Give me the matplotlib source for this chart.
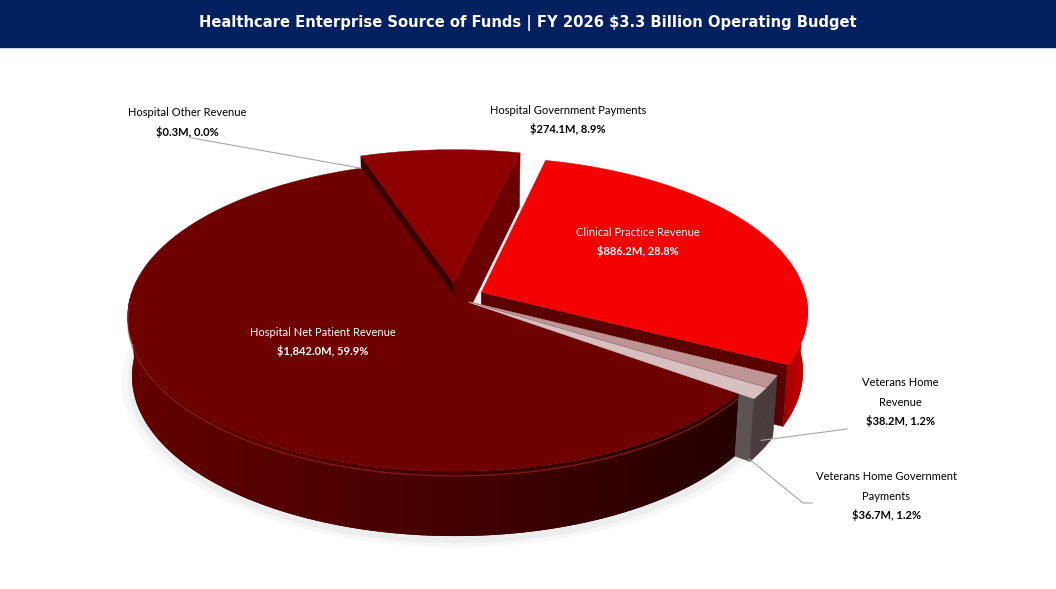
import numpy as np
import matplotlib
matplotlib.use('Agg')
import matplotlib.pyplot as plt
from matplotlib.patches import Polygon, Rectangle
from matplotlib.colors import to_rgb

# slices listed counter-clockwise, starting with Clinical Practice Revenue
categories = ['Clinical Practice Revenue', 'Hospital Government Payments',
              'Hospital Other Revenue', 'Hospital Net Patient Revenue',
              'Veterans Home Government Payments', 'Veterans Home Revenue']
values = [886.2, 274.1, 0.3, 1842.0, 36.7, 38.2]   # $M
title = 'Healthcare Enterprise Source of Funds | FY 2026 $3.3 Billion Operating Budget'

# styling
explode = [0.09, 0.10, 0.0, 0.0, 0.05, 0.05]
top_colors = ['#F50000', '#8E0000', '#8E0000', '#6E0000', '#D9C0C0', '#BF9494']
wall_colors = [('#A00000', '#D00000'), ('#6A0000', '#6A0000'), ('#6A0000', '#6A0000'),
               ('#640000', '#260000'), ('#4A3C3C', '#4A3C3C'), ('#4A3C3C', '#4A3C3C')]
start_wall = ['#5A0000', '#6A0000', '#5A0000', '#5A0000', '#5C5454', '#5C5454']
end_wall = ['#5A0000', '#3A0000', '#3A0000', '#3A0000', '#5C5454', '#5C5454']
start_angle = -27.0

# projection of the 3D disc (unit radius) onto the picture, in pixels
cx, cy, S = 455.0, 298.0, 325.0
beta = np.radians(28)
D = 7.4
h = 0.21
sb, cb = np.sin(beta), np.cos(beta)


def proj(X, Y, Z):
    X, Y, Z = np.asarray(X, float), np.asarray(Y, float), np.asarray(Z, float)
    depth = D + Y * cb - Z * sb
    up = Y * sb + Z * cb
    k = D / depth
    return cx + S * X * k, cy - S * up * k


fig = plt.figure(figsize=(10.56, 5.89), dpi=100)
ax = fig.add_axes([0, 0, 1, 1])

# title bar
ax.add_patch(Rectangle((0, 0), 1056, 47, color='#012060', zorder=1))
ax.text(528, 23, title, color='white', fontsize=10.6, fontweight='bold',
        ha='center', va='center', family='DejaVu Sans', zorder=2)

total = sum(values)
angles = np.cumsum([0] + [v / total * 360 for v in values]) + start_angle

# faint shadow under the pie
t = np.radians(np.linspace(0, 360, 240))
for r, a in [(1.035, 0.03), (1.015, 0.04)]:
    sx, sy = proj(r * np.cos(t), r * np.sin(t), -h)
    ax.add_patch(Polygon(np.c_[sx + 1, sy + 4], closed=True, color='black',
                         alpha=a, lw=0, zorder=2))

walls = []   # (depth key, polygon, colours)
tops = []
rims = []
for i in range(len(values)):
    a0, a1 = angles[i], angles[i + 1]
    mid = np.radians((a0 + a1) / 2)
    ox, oy = explode[i] * np.cos(mid), explode[i] * np.sin(mid)
    t = np.radians(np.linspace(a0, a1, max(3, int((a1 - a0) * 3))))
    X, Y = ox + np.cos(t), oy + np.sin(t)
    px, py = proj(np.r_[ox, X], np.r_[oy, Y], 0)
    tops.append((np.c_[px, py], top_colors[i]))

    # curved outer wall, front half only
    vis = np.sin(t) < 0
    if vis.sum() >= 2:
        Xv, Yv = X[vis], Y[vis]
        tx, ty = proj(Xv, Yv, 0)
        bx, by = proj(Xv, Yv, -h)
        poly = np.r_[np.c_[tx, ty], np.c_[bx, by][::-1]]
        walls.append((Yv.mean(), poly, wall_colors[i]))
        if i == 3:
            rims.append((Xv, Yv))

    # radial walls facing the viewer
    for ang, nrm, col in [(a0, a0 - 90, start_wall[i]), (a1, a1 + 90, end_wall[i])]:
        if np.sin(np.radians(nrm)) < 0:
            ex, ey = ox + np.cos(np.radians(ang)), oy + np.sin(np.radians(ang))
            qx, qy = proj([ox, ex, ex, ox], [oy, ey, ey, oy], [0, 0, -h, -h])
            walls.append(((oy + ey) / 2, np.c_[qx, qy], (col, col)))

z = 3.0
for _, poly, (c1, c2) in sorted(walls, key=lambda w: -w[0]):
    z += 0.01
    if c1 == c2:
        ax.add_patch(Polygon(poly, closed=True, facecolor=c1, edgecolor=c1,
                             lw=0.4, zorder=z))
        continue
    # horizontal gradient clipped to the wall outline
    patch = Polygon(poly, closed=True, facecolor=c2, edgecolor='none', zorder=z)
    ax.add_patch(patch)
    x0, x1 = poly[:, 0].min(), poly[:, 0].max()
    y0, y1 = poly[:, 1].min(), poly[:, 1].max()
    u = np.linspace(0, 1, 256)[None, :, None]
    grad = np.array(to_rgb(c1))[None, None, :] * (1 - u) + np.array(to_rgb(c2))[None, None, :] * u
    im = ax.imshow(np.repeat(grad, 2, axis=0), extent=(x0, x1, y1, y0),
                   aspect='auto', interpolation='bilinear', zorder=z + 0.001)
    im.set_clip_path(patch)

for poly, col in tops:
    ax.add_patch(Polygon(poly, closed=True, facecolor=col, edgecolor=col,
                         lw=0.3, zorder=5))
# light bevel along the front rim of the big slice
for X, Y in rims:
    rx_, ry_ = proj(X, Y, -0.015)
    ax.plot(rx_, ry_, color='#9C2020', lw=1.0, alpha=0.7, zorder=6)

# data labels
lab_font = dict(family='Lato', fontsize=8, ha='center', va='center', zorder=8)


def money(i):
    return '${:,.1f}M, {:.1f}%'.format(values[i], values[i] / total * 100)


label_pos = {
    0: ([categories[0]], 638, 232, 'white'),
    1: ([categories[1]], 568, 110, 'black'),
    2: ([categories[2]], 187, 113, 'black'),
    3: ([categories[3]], 323, 332, 'white'),
    4: (['Veterans Home Government', 'Payments'], 886, 477, 'black'),
    5: (['Veterans Home', 'Revenue'], 900, 383, 'black'),
}
for i, (lines, x, y, col) in label_pos.items():
    for k, ln in enumerate(lines):
        ax.text(x, y + 19 * k, ln, color=col, **lab_font)
    ax.text(x, y + 19 * len(lines), money(i), color=col, fontweight='bold', **lab_font)

# leader lines
lead = dict(color='#A6A6A6', lw=0.8, zorder=7)
a = np.radians(angles[3])
hx, hy = proj(np.cos(a), np.sin(a), 0)
ax.plot([192, hx], [138, hy], **lead)

m = np.radians((angles[5] + angles[6]) / 2)
e = explode[5]
vx, vy = proj((1 + e) * np.cos(m) - 0.02, (1 + e) * np.sin(m), -0.95 * h)
ax.plot([847, vx], [429, vy], **lead)

m = np.radians((angles[4] + angles[5]) / 2)
e = explode[4]
gx, gy = proj((1 + e) * np.cos(m) - 0.02, (1 + e) * np.sin(m), -1.05 * h)
ax.plot([812, 803, gx], [503, 503, gy], **lead)

ax.set_xlim(0, 1056)
ax.set_ylim(589, 0)
ax.axis('off')
fig.savefig('out.png', dpi=100)
